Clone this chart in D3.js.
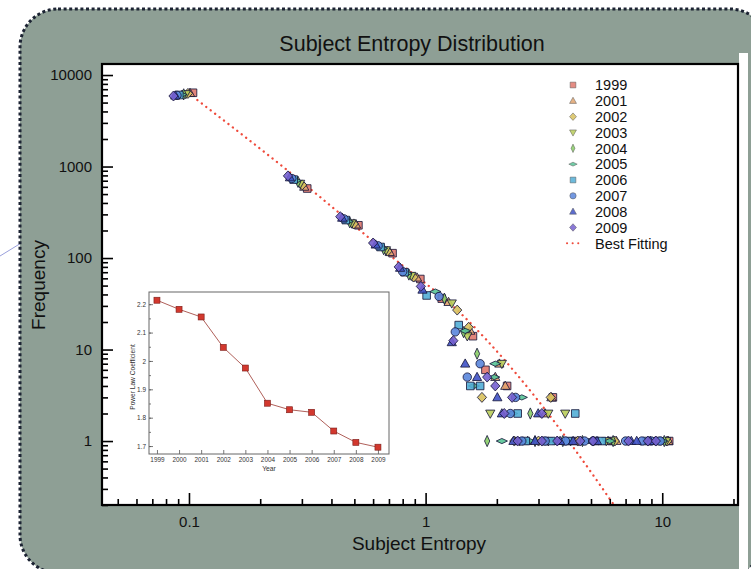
<!DOCTYPE html>
<html>
<head>
<meta charset="utf-8">
<script src="https://cdn.jsdelivr.net/npm/d3@7"></script>
<style>
    html, body { margin: 0; padding: 0; background: #fff; }
    svg { display: block; font-family: "Liberation Sans", Arial, Helvetica, sans-serif; }
</style>
</head>
<body>
<svg id="chart" width="751" height="569"></svg>
<script>
// 图例年份
var seriesYears = ['1999', '2001', '2002', '2003', '2004', '2005', '2006', '2007', '2008', '2009'];

// 每年的 [Subject Entropy, Frequency]
var pts1999 = [[0.104, 6400], [0.316, 575], [0.52, 228], [0.725, 113], [0.95, 59], [1.17, 36], [1.585, 14], [1.79, 6], [2.21, 4], [3.45, 3], [3.2, 1], [4.3, 1], [5.2, 1], [6.1, 1], [10.7, 1]];
var pts2001 = [[0.101, 6350], [0.307, 600], [0.508, 232], [0.705, 116], [0.92, 61], [1.25, 33], [1.545, 16], [2.05, 7], [1.97, 5], [2.17, 4], [3.40, 3], [3.2, 2], [2.7, 1], [3.6, 1], [5.9, 1], [6.4, 1], [10.6, 1]];
var pts2002 = [[0.099, 6300], [0.301, 630], [0.497, 236], [0.69, 119], [0.89, 62], [1.36, 27], [1.52, 17.5], [1.73, 3], [3.38, 3], [2.37, 1], [3.0, 1], [4.4, 1], [6.3, 1], [10.5, 1]];
var pts2003 = [[0.097, 6200], [0.295, 650], [0.487, 240], [0.68, 122], [0.87, 64], [1.29, 32], [1.50, 14], [2.10, 7], [1.876, 2], [3.3, 2], [3.89, 2], [2.5, 1], [3.3, 1], [4.1, 1], [5.8, 1], [10.4, 1]];
var pts2004 = [[0.095, 6150], [0.289, 680], [0.478, 246], [0.665, 125], [0.85, 66], [1.20, 36], [1.447, 15.5], [1.65, 9], [2.77, 2], [1.82, 1], [2.9, 1], [3.8, 1], [4.6, 1], [6.2, 1], [10.2, 1]];
var pts2005 = [[0.093, 6100], [0.283, 700], [0.469, 252], [0.655, 128], [0.83, 68], [1.10, 43], [1.47, 16], [1.97, 7], [1.95, 5], [1.60, 4], [2.55, 3], [2.32, 2], [2.10, 1], [2.75, 1], [3.5, 1], [4.9, 1], [6.0, 1], [10.0, 1]];
var pts2006 = [[0.091, 6050], [0.277, 720], [0.46, 260], [0.645, 132], [0.815, 70], [1.01, 39], [1.38, 18.5], [1.545, 4], [1.70, 4], [2.45, 2], [4.29, 2], [2.65, 1], [3.4, 1], [4.0, 1], [5.56, 1], [8.6, 1], [9.6, 1]];
var pts2007 = [[0.089, 6000], [0.272, 740], [0.452, 268], [0.63, 136], [0.80, 71], [1.14, 38], [1.335, 15.6], [1.70, 7], [1.50, 5], [2.40, 3], [2.28, 2], [2.55, 1], [3.2, 1], [3.9, 1], [4.7, 1], [5.1, 1], [7.0, 1], [8.2, 1], [9.0, 1], [9.8, 1]];
var pts2008 = [[0.0875, 5950], [0.267, 760], [0.444, 275], [0.615, 140], [0.78, 78], [0.97, 45], [1.29, 12], [1.47, 7], [1.65, 5], [2.01, 3], [2.10, 2], [2.99, 2], [2.35, 1], [2.9, 1], [3.7, 1], [4.2, 1], [5.3, 1], [7.4, 1], [7.8, 1], [8.9, 1]];
var pts2009 = [[0.086, 5900], [0.262, 790], [0.436, 283], [0.60, 146], [0.77, 80], [0.955, 49], [1.31, 12.5], [1.82, 5], [1.97, 4], [2.32, 3], [2.15, 2], [3.1, 2], [2.45, 1], [3.1, 1], [3.6, 1], [4.5, 1], [5.1, 1], [7.2, 1], [8.7, 1], [9.4, 1]];
var seriesData = [pts1999, pts2001, pts2002, pts2003, pts2004, pts2005, pts2006, pts2007, pts2008, pts2009];

// 拟合曲线
var fitEntropy = [0.1085, 0.2597, 0.73, 1.401, 2.344, 3.14, 4.2, 6.21];
var fitFreq = [5330, 916, 100, 25.1, 5.97, 2.35, 0.86, 0.205];

// 主图刻度标签
var xTickLabels = [0.1, 1, 10];
var yTickLabels = [1, 10, 100, 1000, 10000];

// 小图：幂律系数
var insetYears = [1999, 2000, 2001, 2002, 2003, 2004, 2005, 2006, 2007, 2008, 2009];
var insetCoef = [2.214, 2.182, 2.155, 2.048, 1.975, 1.851, 1.828, 1.819, 1.753, 1.713, 1.696];
var insetYTicks = [1.7, 1.8, 1.9, 2, 2.1, 2.2];

;(function (win) {

    "use strict";

    //配置
    var _config = {
        plot: {left: 102, top: 64, right: 738, bottom: 505},
        inset: {left: 149, top: 292, right: 389, bottom: 454},
        xDomain: [0.0429, 20.9],
        yDomain: [0.2, 13200],
        insetX: [1998.64, 2009.5],
        insetY: [1.672, 2.243],
        bgColor: '#8e9f95',
        colors: ['#e0786d', '#e2a46e', '#d8c15e', '#b9cd5a', '#88cd66', '#58c496', '#52aed6', '#5a86dc', '#3f52c6', '#7561cf'],
        shapes: ['square', 'triangle', 'diamond', 'triangleDown', 'thinDiamond', 'wideDiamond', 'square', 'circle', 'triangle', 'diamond'],
        fitColor: '#ef4b3c'
    };

    var _tool = {

        // 符号路径
        shapePath: function (shape, k) {
            var p = d3.path();
            switch (shape) {
                case 'square':
                    p.rect(-3.8 * k, -3.8 * k, 7.6 * k, 7.6 * k);
                    break;
                case 'circle':
                    p.arc(0, 0, 4.2 * k, 0, 2 * Math.PI);
                    break;
                case 'triangle':
                    p.moveTo(0, -4.8 * k); p.lineTo(4.6 * k, 3.4 * k); p.lineTo(-4.6 * k, 3.4 * k);
                    break;
                case 'triangleDown':
                    p.moveTo(0, 4.8 * k); p.lineTo(4.6 * k, -3.4 * k); p.lineTo(-4.6 * k, -3.4 * k);
                    break;
                case 'diamond':
                    p.moveTo(0, -5 * k); p.lineTo(4.6 * k, 0); p.lineTo(0, 5 * k); p.lineTo(-4.6 * k, 0);
                    break;
                case 'thinDiamond':
                    p.moveTo(0, -5.6 * k); p.lineTo(2.6 * k, 0); p.lineTo(0, 5.6 * k); p.lineTo(-2.6 * k, 0);
                    break;
                case 'wideDiamond':
                    p.moveTo(0, -2.6 * k); p.lineTo(5.6 * k, 0); p.lineTo(0, 2.6 * k); p.lineTo(-5.6 * k, 0);
                    break;
            }
            p.closePath();
            return p.toString();
        },

        // 背景与外框
        drawFrame: function (svg) {
            svg.append('rect').attr('width', 751).attr('height', 569).attr('fill', '#fff');

            svg.append('line')
                .attr('x1', 0).attr('y1', 256).attr('x2', 44).attr('y2', 229)
                .attr('stroke', '#9aa0dc').attr('stroke-width', 1);

            svg.append('rect')
                .attr('x', 20).attr('y', 9).attr('width', 748).attr('height', 564)
                .attr('rx', 38).attr('ry', 38)
                .attr('fill', _config.bgColor)
                .attr('stroke', '#1c2333').attr('stroke-width', 3)
                .attr('stroke-dasharray', '3,2.6');

            // 右侧白条
            svg.append('rect')
                .attr('x', 739).attr('y', 53).attr('width', 9).attr('height', 520)
                .attr('fill', '#fff');

            var pl = _config.plot;
            svg.append('rect')
                .attr('x', pl.left).attr('y', pl.top)
                .attr('width', pl.right - pl.left).attr('height', pl.bottom - pl.top)
                .attr('fill', '#fff');
        },

        // 主图坐标轴
        drawAxes: function (svg, x, y) {
            var pl = _config.plot;
            var isMajor = function (v) { return Math.abs(Math.log10(v) - Math.round(Math.log10(v))) < 1e-9; };

            var xMinor = x.ticks().filter(function (v) { return !isMajor(v); });
            var yMinor = y.ticks().filter(function (v) { return !isMajor(v); });

            var gx = svg.append('g').attr('transform', 'translate(0,' + pl.bottom + ')');
            gx.append('g').call(d3.axisBottom(x).tickValues(xMinor).tickSize(-6).tickSizeOuter(0).tickFormat(''));
            gx.append('g').call(d3.axisBottom(x).tickValues(xTickLabels).tickSize(-12).tickSizeOuter(0)
                .tickPadding(11).tickFormat(d3.format('')));

            var gy = svg.append('g').attr('transform', 'translate(' + pl.left + ',0)');
            gy.append('g').call(d3.axisLeft(y).tickValues(yMinor).tickSize(-6).tickSizeOuter(0).tickFormat(''));
            gy.append('g').call(d3.axisLeft(y).tickValues(yTickLabels).tickSize(-11).tickSizeOuter(0)
                .tickPadding(10).tickFormat(d3.format('')));

            svg.selectAll('.domain').remove();
            [gx, gy].forEach(function (g) {
                g.attr('font-family', null).attr('font-size', null);
                g.selectAll('line').attr('stroke', '#000').attr('stroke-width', 1.6);
                g.selectAll('text').attr('font-size', 15).attr('fill', '#111');
            });

            svg.append('rect')
                .attr('x', pl.left).attr('y', pl.top)
                .attr('width', pl.right - pl.left).attr('height', pl.bottom - pl.top)
                .attr('fill', 'none').attr('stroke', '#000').attr('stroke-width', 2.2);

            // 标题与轴名
            svg.append('text').attr('x', 412).attr('y', 51).attr('text-anchor', 'middle')
                .attr('font-size', 21.5).attr('fill', '#111').text('Subject Entropy Distribution');
            svg.append('text').attr('x', 419).attr('y', 550).attr('text-anchor', 'middle')
                .attr('font-size', 19).attr('fill', '#111').text('Subject Entropy');
            svg.append('text').attr('transform', 'translate(45,285) rotate(-90)').attr('text-anchor', 'middle')
                .attr('font-size', 19).attr('fill', '#111').text('Frequency');
        },

        // 拟合线
        drawFit: function (g, x, y) {
            var pts = fitEntropy.map(function (e, i) { return [e, fitFreq[i]]; });
            g.append('path')
                .datum(pts)
                .attr('d', d3.line()
                    .x(function (d) { return x(d[0]); })
                    .y(function (d) { return y(d[1]); })
                    .curve(d3.curveMonotoneX))
                .attr('fill', 'none')
                .attr('stroke', _config.fitColor)
                .attr('stroke-width', 2.3)
                .attr('stroke-linecap', 'round')
                .attr('stroke-dasharray', '0.1,5.5');
        },

        // 散点
        drawPoints: function (g, x, y) {
            seriesData.forEach(function (data, i) {
                g.append('g').attr('class', 'year-' + seriesYears[i])
                    .selectAll('path')
                    .data(data)
                    .enter()
                    .append('path')
                    .attr('d', _tool.shapePath(_config.shapes[i], 1))
                    .attr('transform', function (d) { return 'translate(' + x(d[0]) + ',' + y(d[1]) + ')'; })
                    .attr('fill', _config.colors[i])
                    .attr('fill-opacity', 0.9)
                    .attr('stroke', '#141438')
                    .attr('stroke-opacity', 0.9)
                    .attr('stroke-width', 0.9);
            });
        },

        // 图例
        drawLegend: function (svg) {
            var lg = svg.append('g').attr('class', 'legend');
            seriesYears.forEach(function (yr, i) {
                var cy = 85 + i * 15.83;
                lg.append('path')
                    .attr('d', _tool.shapePath(_config.shapes[i], 0.75))
                    .attr('transform', 'translate(573,' + cy + ')')
                    .attr('fill', _config.colors[i])
                    .attr('fill-opacity', 0.85)
                    .attr('stroke', '#555').attr('stroke-width', 0.5);
                lg.append('text').attr('x', 595).attr('y', cy + 5.2)
                    .attr('font-size', 14.5).attr('fill', '#111').text(yr);
            });
            var fy = 85 + seriesYears.length * 15.83;
            lg.append('line').attr('x1', 567).attr('x2', 583).attr('y1', fy).attr('y2', fy)
                .attr('stroke', _config.fitColor).attr('stroke-width', 2)
                .attr('stroke-linecap', 'round').attr('stroke-dasharray', '0.1,5.5');
            lg.append('text').attr('x', 595).attr('y', fy + 5.2)
                .attr('font-size', 14.5).attr('fill', '#111').text('Best Fitting');
        },

        // 小图
        drawInset: function (svg) {
            var ins = _config.inset;
            var ix = d3.scaleLinear().domain(_config.insetX).range([ins.left, ins.right]);
            var iy = d3.scaleLinear().domain(_config.insetY).range([ins.bottom, ins.top]);
            var g = svg.append('g').attr('class', 'inset');

            g.append('rect').attr('x', ins.left).attr('y', ins.top)
                .attr('width', ins.right - ins.left).attr('height', ins.bottom - ins.top)
                .attr('fill', '#fff');

            var gx = g.append('g').attr('transform', 'translate(0,' + ins.bottom + ')')
                .call(d3.axisBottom(ix).tickValues(insetYears).tickSize(-4).tickSizeOuter(0)
                    .tickPadding(3).tickFormat(d3.format('d')));
            var yMinor = d3.range(1.7, 2.25, 0.05);
            var gym = g.append('g').attr('transform', 'translate(' + ins.left + ',0)')
                .call(d3.axisLeft(iy).tickValues(yMinor).tickSize(-2).tickSizeOuter(0).tickFormat(''));
            var gy = g.append('g').attr('transform', 'translate(' + ins.left + ',0)')
                .call(d3.axisLeft(iy).tickValues(insetYTicks).tickSize(-4).tickSizeOuter(0)
                    .tickPadding(3).tickFormat(d3.format('')));
            g.selectAll('.domain').remove();
            [gx, gy, gym].forEach(function (a) {
                a.attr('font-family', null).attr('font-size', null);
                a.selectAll('line').attr('stroke', '#555').attr('stroke-width', 0.8);
                a.selectAll('text').attr('font-size', 6.4).attr('fill', '#333');
            });

            g.append('rect').attr('x', ins.left).attr('y', ins.top)
                .attr('width', ins.right - ins.left).attr('height', ins.bottom - ins.top)
                .attr('fill', 'none').attr('stroke', '#666').attr('stroke-width', 1);

            g.append('path')
                .datum(insetYears.map(function (yr, i) { return [yr, insetCoef[i]]; }))
                .attr('d', d3.line().x(function (d) { return ix(d[0]); }).y(function (d) { return iy(d[1]); }))
                .attr('fill', 'none').attr('stroke', '#b0605a').attr('stroke-width', 1);

            g.selectAll('rect.pt')
                .data(insetYears.map(function (yr, i) { return [yr, insetCoef[i]]; }))
                .enter()
                .append('rect').attr('class', 'pt')
                .attr('x', function (d) { return ix(d[0]) - 3; })
                .attr('y', function (d) { return iy(d[1]) - 3; })
                .attr('width', 6).attr('height', 6)
                .attr('fill', '#d2382e').attr('stroke', '#7a1c18').attr('stroke-width', 0.6);

            g.append('text').attr('x', (ins.left + ins.right) / 2).attr('y', 470.5).attr('text-anchor', 'middle')
                .attr('font-size', 6.8).attr('fill', '#333').text('Year');
            g.append('text').attr('transform', 'translate(134.5,377) rotate(-90)').attr('text-anchor', 'middle')
                .attr('font-size', 6.6).attr('fill', '#333').text('Power Law Coefficient');
        },

        draw: function () {
            var svg = d3.select('#chart');
            var pl = _config.plot;
            var x = d3.scaleLog().domain(_config.xDomain).range([pl.left, pl.right]);
            var y = d3.scaleLog().domain(_config.yDomain).range([pl.bottom, pl.top]);

            _tool.drawFrame(svg);

            var clip = svg.append('clipPath').attr('id', 'plot-clip');
            clip.append('rect').attr('x', pl.left).attr('y', pl.top)
                .attr('width', pl.right - pl.left).attr('height', pl.bottom - pl.top);
            var g = svg.append('g').attr('clip-path', 'url(#plot-clip)');

            _tool.drawFit(g, x, y);
            _tool.drawPoints(g, x, y);
            _tool.drawInset(svg);
            _tool.drawLegend(svg);
            _tool.drawAxes(svg, x, y);
        }
    };

    _tool.draw();

})(window);
</script>
</body>
</html>
